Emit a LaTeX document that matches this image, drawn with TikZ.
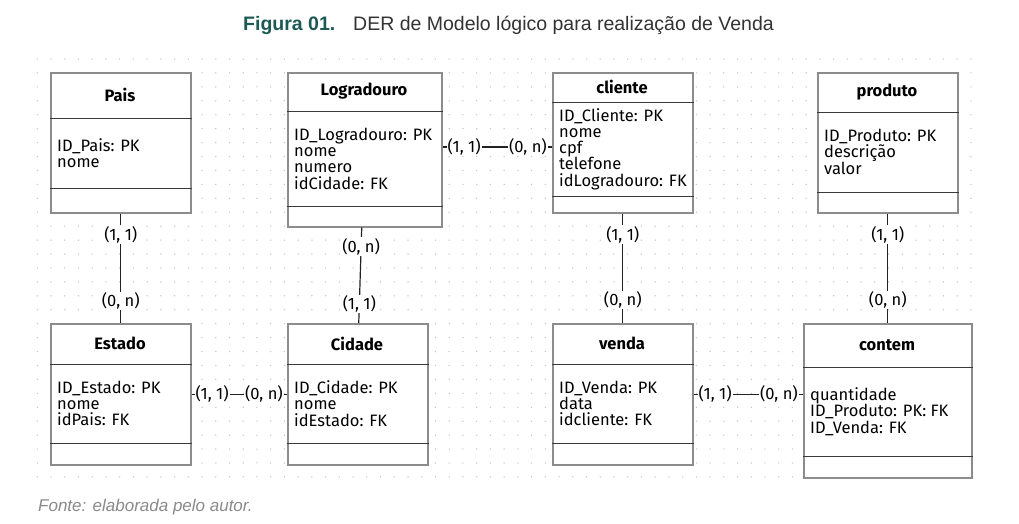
\documentclass[tikz,border=0pt]{standalone}
\usepackage{fontspec}
\usetikzlibrary{calc}
\newfontfamily\fira{Fira Sans}
\newfontfamily\arialf{Liberation Sans}
\definecolor{boxgray}{HTML}{8C8C8C}
\definecolor{sepc}{HTML}{3A3A3A}
\definecolor{dotc}{HTML}{C4C4C4}
\definecolor{titleteal}{HTML}{1E5A55}
\definecolor{titlegray}{HTML}{333333}
\definecolor{capgray}{HTML}{8A8A8A}
\definecolor{connc}{HTML}{222222}
\tikzset{
  entbox/.style={draw=boxgray, line width=1.5pt, fill=white, inner sep=0pt},
  sepline/.style={draw=sepc, line width=1pt},
  enthead/.style={font=\fira\bfseries\fontsize{16.5}{18}\selectfont, inner sep=0pt, text=black},
  entbody/.style={font=\fira\fontsize{16.5}{16.3}\selectfont, inner sep=0pt, align=left, text=black, anchor=west},
  conn/.style={draw=connc, line width=1.2pt},
  card/.style={font=\fira\fontsize{16.5}{18}\selectfont, fill=white, inner sep=1pt, text=black}
}
% #1 name, #2 left, #3 top, #4 right, #5 bottom, #6 header line y, #7 separator y, #8 title, #9 body
\newcommand\entity[9]{%
  \node[entbox, anchor=north west, minimum width={#4-#2}, minimum height={#5-#3}] (#1) at (#2,#3) {};
  \draw[sepline] (#1.west |- 0,#6) -- (#1.east |- 0,#6);
  \draw[sepline] (#1.west |- 0,#7) -- (#1.east |- 0,#7);
  \node[enthead] (#1-h) at ({(#2+#4)/2},{(#3+#6)/2}) {#8};
  \node[entbody] (#1-b) at ({#2+7},{(#6+#7)/2}) {#9};
}
\begin{document}
\begin{tikzpicture}[x=1pt,y=-1pt]
\useasboundingbox (0,0) rectangle (1019,523);
\fill[white] (0,0) rectangle (1019,523);
% grid
\foreach \i in {0,...,68}{
  \foreach \j in {0,...,30}{
    \fill[dotc] ({37.3+13.73*\i},{59+13.93*\j}) circle (0.75);
  }
}
% title
\node[anchor=base west, inner sep=0pt, font=\arialf\bfseries\fontsize{19.5}{21}\selectfont, text=titleteal] (tA) at (243,30) {Figura 01.};
\node[anchor=base west, inner sep=0pt, font=\arialf\fontsize{19.5}{21}\selectfont, text=titlegray] (tB) at (353,30) {DER de Modelo lógico para realização de Venda};
% caption
\node[anchor=base west, inner sep=0pt, font=\arialf\itshape\fontsize{17}{19}\selectfont, text=capgray] (cap) at (38,511) {Fonte: elaborada pelo autor.};
% entities
\entity{pais}{50}{72}{190}{212}{118}{188}{Pais}{ID\_Pais: PK\\nome}
\entity{logr}{287}{72}{441}{226}{111}{206}{Logradouro}{ID\_Logradouro: PK\\nome\\numero\\idCidade: FK}
\entity{clie}{552}{72}{692}{212}{102}{196}{cliente}{ID\_Cliente: PK\\nome\\cpf\\telefone\\idLogradouro: FK}
\entity{prod}{817}{72}{957}{212}{112}{192}{produto}{ID\_Produto: PK\\descrição\\valor}
\entity{esta}{50}{323}{190}{464}{364}{443}{Estado}{ID\_Estado: PK\\nome\\idPais: FK}
\entity{cida}{287}{323}{427}{464}{364}{443}{Cidade}{ID\_Cidade: PK\\nome\\idEstado: FK}
\entity{vend}{552}{323}{692}{464}{364}{443}{venda}{ID\_Venda: PK\\data\\idcliente: FK}
\entity{cont}{803}{323}{971}{477}{367}{456}{contem}{quantidade\\ID\_Produto: PK: FK\\ID\_Venda: FK}
% vertical connectors
\draw[conn] (pais.south) -- (esta.north);
\node[card] (l1a) at ($(pais.south)+(0,21)$) {(1, 1)};
\node[card] (l1b) at ($(esta.north)+(0,-22)$) {(0, n)};
\draw[conn] ([xshift=-3pt]logr.south) -- ([xshift=1pt]cida.north)
  node[card, pos=0.2] (l2a) {(0, n)}
  node[card, pos=0.8] (l2b) {(1, 1)};
\draw[conn] (clie.south) -- (vend.north);
\node[card] (l3a) at ($(clie.south)+(0,21)$) {(1, 1)};
\node[card] (l3b) at ($(vend.north)+(0,-23)$) {(0, n)};
\draw[conn] (prod.south) -- (cont.north);
\node[card] (l4a) at ($(prod.south)+(0,21)$) {(1, 1)};
\node[card] (l4b) at ($(cont.north)+(0,-23)$) {(0, n)};
% horizontal connectors
\draw[conn] (logr.east |- 0,147) -- (clie.west |- 0,147);
\node[card, anchor=west] (h1a) at ([xshift=4pt]logr.east |- 0,147) {(1, 1)};
\node[card, anchor=east] (h1b) at ([xshift=-4pt]clie.west |- 0,147) {(0, n)};
\draw[conn] (esta.east) -- (cida.west);
\node[card, anchor=west] (h2a) at ([xshift=3pt]esta.east) {(1, 1)};
\node[card, anchor=east] (h2b) at ([xshift=-3pt]cida.west) {(0, n)};
\draw[conn] (vend.east) -- (cont.west |- vend.east);
\node[card, anchor=west] (h3a) at ([xshift=4pt]vend.east) {(1, 1)};
\node[card, anchor=east] (h3b) at ([xshift=-4pt]cont.west |- vend.east) {(0, n)};
\end{tikzpicture}
\end{document}
